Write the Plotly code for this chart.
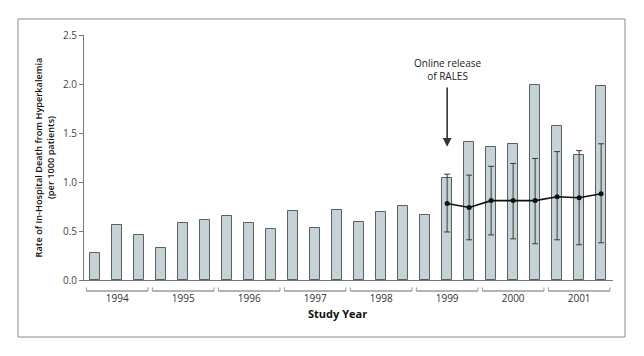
import plotly.graph_objects as go

# ---- data ----
years = [1994, 1995, 1996, 1997, 1998, 1999, 2000, 2001]
periods_per_year = 3
bar_values = [0.28, 0.56, 0.46,
              0.33, 0.58, 0.61,
              0.65, 0.58, 0.52,
              0.70, 0.53, 0.71,
              0.59, 0.69, 0.76,
              0.66, 1.04, 1.41,
              1.36, 1.39, 1.99,
              1.57, 1.28, 1.98]
expected_start = 16  # index of first period with expected-rate line (after RALES)
expected_values = [0.78, 0.74, 0.81, 0.81, 0.81, 0.85, 0.84, 0.88]
expected_upper = [1.08, 1.07, 1.16, 1.19, 1.24, 1.31, 1.32, 1.39]
expected_lower = [0.49, 0.41, 0.46, 0.42, 0.37, 0.41, 0.36, 0.38]
y_ticks = [0.0, 0.5, 1.0, 1.5, 2.0, 2.5]
annotation_text = "Online release<br>of RALES"
y_title = "Rate of In-Hospital Death from Hyperkalemia<br>(per 1000 patients)"
x_title = "Study Year"

FONT = "Open Sans"
bar_x = list(range(len(bar_values)))
line_x = bar_x[expected_start:expected_start + len(expected_values)]
err_plus = [u - v for u, v in zip(expected_upper, expected_values)]
err_minus = [v - l for v, l in zip(expected_values, expected_lower)]
year_centers = [i * periods_per_year + (periods_per_year - 1) / 2 for i in range(len(years))]

fig = go.Figure()
fig.add_trace(go.Bar(
    x=bar_x, y=bar_values, width=0.43,
    marker=dict(color="#c6d3d6", line=dict(color="#5a5f61", width=1)),
    showlegend=False, hoverinfo="y"))
fig.add_trace(go.Scatter(
    x=line_x, y=expected_values, mode="lines+markers",
    line=dict(color="#111111", width=1.6),
    marker=dict(color="#111111", size=5),
    error_y=dict(type="data", symmetric=False, array=err_plus, arrayminus=err_minus,
                 color="#3a3a3a", thickness=1, width=3),
    showlegend=False))

# year brackets under the axis
shapes = []
for i in range(len(years)):
    x0 = i * periods_per_year - 0.5 + 0.1
    x1 = (i + 1) * periods_per_year - 0.5 - 0.1
    yb = -0.045
    yt = -0.03
    shapes.append(dict(type="line", xref="x", yref="paper", x0=x0, x1=x1, y0=yb, y1=yb,
                       line=dict(color="#9a9a9a", width=1.5)))
    for xe in (x0, x1):
        shapes.append(dict(type="line", xref="x", yref="paper", x0=xe, x1=xe, y0=yb, y1=yt,
                           line=dict(color="#9a9a9a", width=1)))
# outer frame
shapes.append(dict(type="rect", xref="paper", yref="paper",
                   x0=-0.1248, x1=1.0227, y0=-0.2327, y1=1.0653,
                   line=dict(color="#8a8a8a", width=1)))

annotations = [
    dict(x=expected_start, y=2.15, xref="x", yref="y", text=annotation_text,
         showarrow=False, font=dict(family=FONT, size=10, color="#222222"),
         xanchor="center", yanchor="middle", align="center"),
    dict(x=expected_start, y=1.36, xref="x", yref="y", ax=expected_start, ay=1.98,
         axref="x", ayref="y", text="", showarrow=True, arrowhead=2, arrowsize=1.1,
         arrowwidth=1.6, arrowcolor="#333333"),
    dict(x=0.48, y=-0.135, xref="paper", yref="paper", text="<b>" + x_title + "</b>",
         showarrow=False, font=dict(family=FONT, size=11, color="#111111"),
         xanchor="center", yanchor="middle"),
]

fig.update_layout(
    width=636, height=348,
    margin=dict(l=76, r=31, t=27, b=76),
    paper_bgcolor="white", plot_bgcolor="white",
    font=dict(family=FONT, size=10, color="#333333"),
    bargap=0, shapes=shapes, annotations=annotations,
    xaxis=dict(range=[-0.51, 23.54], tickmode="array", tickvals=year_centers,
               ticktext=[str(y) for y in years], ticks="", showline=True,
               linecolor="#777777", linewidth=1, showgrid=False, zeroline=False,
               tickfont=dict(family=FONT, size=10, color="#333333"),
               ticklabelstandoff=9),
    yaxis=dict(range=[0, 2.5], tickmode="array", tickvals=y_ticks,
               ticktext=[f"{v:.1f}" for v in y_ticks], ticks="outside", ticklen=4,
               tickcolor="#777777", showline=True, linecolor="#777777", linewidth=1,
               showgrid=False, zeroline=False,
               tickfont=dict(family=FONT, size=10, color="#444444"),
               title=dict(text=y_title, standoff=6,
                          font=dict(family=FONT, size=9.2, color="#111111", weight=600))),
)

fig.write_html("out.html")
